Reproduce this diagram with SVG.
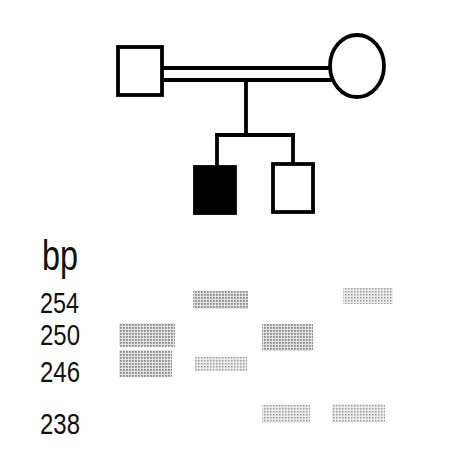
<svg xmlns="http://www.w3.org/2000/svg" width="452" height="460" viewBox="0 0 452 460">
  <style>
    .sym { fill: #ffffff; stroke: #000000; stroke-width: 3.8; }
    .affected { fill: #000000; stroke: #000000; stroke-width: 3.8; }
    .link { stroke: #000000; stroke-width: 3.8; fill: none; stroke-linecap: square; }
    .label { font-family: "Liberation Sans", Arial, sans-serif; fill: #111111; }
    .band { fill: url(#halftone); }
    .band-faint { fill: url(#halftone-light); }
  </style>
  <defs>
    <!-- halftone dot screens for gel bands -->
    <pattern id="halftone" width="3" height="3" patternUnits="userSpaceOnUse">
      <rect x="0" y="0" width="3" height="3" fill="#e2e2e2"/>
      <rect x="0" y="0" width="1.8" height="1.8" fill="#8c8c8c"/>
    </pattern>
    <pattern id="halftone-light" width="3" height="3" patternUnits="userSpaceOnUse">
      <rect x="0" y="0" width="3" height="3" fill="#ececec"/>
      <rect x="0" y="0" width="1.5" height="1.5" fill="#9a9a9a"/>
    </pattern>
  </defs>

  <rect width="452" height="460" fill="#ffffff"/>

  <!-- pedigree connectors -->
  <g id="connectors">
    <line class="link" x1="162" y1="68" x2="332" y2="68"/>
    <line class="link" x1="162" y1="80" x2="332" y2="80"/>
    <line class="link" x1="246" y1="80" x2="246" y2="135"/>
    <line class="link" x1="217" y1="135" x2="293" y2="135"/>
    <line class="link" x1="217" y1="135" x2="217" y2="167"/>
    <line class="link" x1="293" y1="135" x2="293" y2="164"/>
  </g>

  <g id="father">
    <rect class="sym" x="118" y="47" width="44" height="48"/>
  </g>
  <g id="mother">
    <ellipse class="sym" cx="357" cy="66" rx="27" ry="31"/>
  </g>
  <g id="son-affected">
    <rect class="affected" x="195" y="167" width="40" height="46"/>
  </g>
  <g id="son-unaffected">
    <rect class="sym" x="273" y="164" width="40" height="48"/>
  </g>

  <!-- size scale -->
  <g id="scale">
    <text class="label" x="42" y="270" font-size="42" textLength="36" lengthAdjust="spacingAndGlyphs">bp</text>
    <text class="label" x="40" y="313" font-size="29" textLength="39" lengthAdjust="spacingAndGlyphs">254</text>
    <text class="label" x="40" y="345" font-size="29" textLength="40" lengthAdjust="spacingAndGlyphs">250</text>
    <text class="label" x="40" y="382" font-size="29" textLength="40" lengthAdjust="spacingAndGlyphs">246</text>
    <text class="label" x="40" y="434" font-size="29" textLength="40" lengthAdjust="spacingAndGlyphs">238</text>
  </g>

  <!-- gel bands, one column per family member -->
  <g id="lane-father">
    <rect class="band" x="119" y="323" width="56" height="24"/>
    <rect class="band" x="119" y="350" width="53" height="27"/>
  </g>
  <g id="lane-affected">
    <rect class="band" x="193" y="291" width="55" height="18"/>
    <rect class="band-faint" x="195" y="357" width="52" height="14"/>
  </g>
  <g id="lane-unaffected">
    <rect class="band" x="262" y="324" width="51" height="27"/>
    <rect class="band-faint" x="262" y="405" width="48" height="18"/>
  </g>
  <g id="lane-mother">
    <rect class="band-faint" x="343" y="288" width="50" height="16"/>
    <rect class="band-faint" x="332" y="404" width="53" height="18"/>
  </g>
</svg>
